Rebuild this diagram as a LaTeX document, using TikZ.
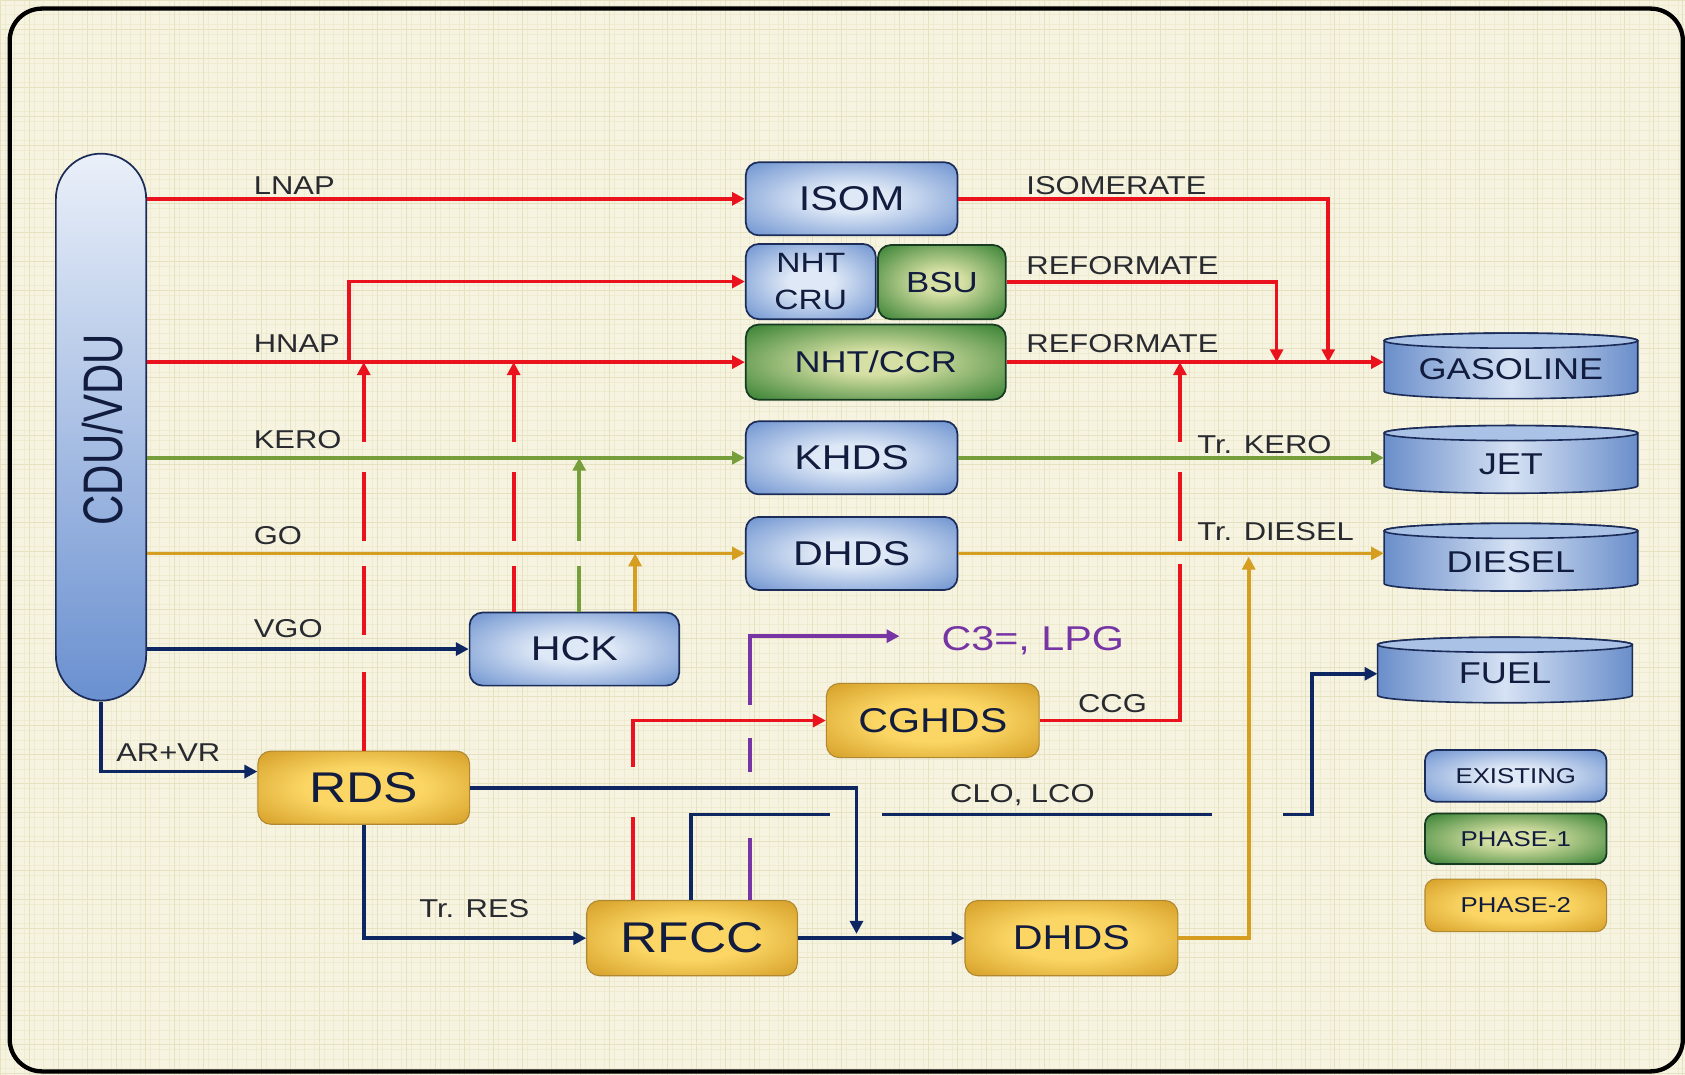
\documentclass[tikz,border=0pt]{standalone}
\usepackage{fontspec}
\setmainfont{Liberation Sans}[FakeStretch=1.2]
\newfontfamily\cdufont{Liberation Sans}
\usetikzlibrary{arrows.meta}
\definecolor{bgC}{RGB}{246,243,224}
\definecolor{bgD}{RGB}{237,228,184}
\definecolor{gridC}{RGB}{230,225,192}
\definecolor{gridM}{RGB}{239,235,209}
\definecolor{redL}{RGB}{234,18,28}
\definecolor{greenL}{RGB}{118,158,58}
\definecolor{orangeL}{RGB}{214,158,32}
\definecolor{navyL}{RGB}{14,38,98}
\definecolor{purpleL}{RGB}{118,52,164}
\definecolor{txtN}{RGB}{18,28,62}
\definecolor{lblC}{RGB}{40,42,48}
\definecolor{bC}{RGB}{222,232,246}
\definecolor{bE}{RGB}{98,138,204}
\definecolor{bE2}{RGB}{82,122,192}
\definecolor{bB}{RGB}{28,44,88}
\definecolor{gC}{RGB}{214,224,164}
\definecolor{gE}{RGB}{50,126,48}
\definecolor{gE2}{RGB}{34,106,38}
\definecolor{gB}{RGB}{22,58,34}
\definecolor{oC}{RGB}{251,214,100}
\definecolor{oE}{RGB}{208,152,32}
\definecolor{oE2}{RGB}{192,138,24}
\definecolor{oB}{RGB}{176,136,50}
\definecolor{tC}{RGB}{214,226,244}
\definecolor{tE}{RGB}{106,142,202}
\definecolor{tTop}{RGB}{170,194,230}
\definecolor{cduT}{RGB}{234,240,249}
\definecolor{cduB}{RGB}{106,144,208}
\pgfdeclareradialshading{blueshade}{\pgfpointorigin}{color(0bp)=(bC); color(9bp)=(bC); color(38bp)=(bE); color(50bp)=(bE2)}
\pgfdeclareradialshading{greenshade}{\pgfpointorigin}{color(0bp)=(gC); color(8bp)=(gC); color(36bp)=(gE); color(50bp)=(gE2)}
\pgfdeclareradialshading{goldshade}{\pgfpointorigin}{color(0bp)=(oC); color(14bp)=(oC); color(38bp)=(oE); color(50bp)=(oE2)}
\pgfdeclareradialshading{bgshade}{\pgfpointorigin}{color(0bp)=(bgC); color(40bp)=(bgC); color(71bp)=(bgD)}
\newcommand\drawtank[4]{%
  \pgfmathsetmacro\tcx{(#1+#3)/2}%
  \pgfmathsetmacro\trx{(#3-#1)/2}%
  \pgfmathsetmacro\tyt{#2+7}%
  \pgfmathsetmacro\tyb{#4-7}%
  \draw[draw=bB,line width=1.5,left color=tE,right color=tE,middle color=tC]
    (#1,\tyt) -- (#1,\tyb) arc[start angle=180,end angle=360,x radius=\trx pt,y radius=7pt]
    -- (#3,\tyt) arc[start angle=0,end angle=180,x radius=\trx pt,y radius=7pt] -- cycle;
  \draw[draw=bB,line width=1.5,fill=tTop] (\tcx,\tyt) ellipse[x radius=\trx pt,y radius=7pt];
}
\tikzset{
  unit/.style={rounded corners=12, inner sep=0, text=txtN, line width=1.6,
    minimum width=197, minimum height=68, font=\fontsize{32}{38}\selectfont},
  bluebox/.style={unit, draw=bB, shade, shading=blueshade},
  greenbox/.style={unit, draw=gB, shade, shading=greenshade},
  goldbox/.style={unit, draw=oB, line width=1, shade, shading=goldshade},
  tanktext/.style={inner sep=0, minimum width=236, minimum height=40, text=txtN,
    font=\fontsize{28}{32}\selectfont},
  legbox/.style={minimum width=169, minimum height=48, rounded corners=10,
    font=\fontsize{20}{24}\selectfont},
  lbl/.style={anchor=base west, inner sep=0, text=lblC, font=\fontsize{24}{28}\selectfont},
  flow/.style={line width=3.4},
  redline/.style={flow, draw=redL},
  greenline/.style={flow, draw=greenL},
  orangeline/.style={flow, draw=orangeL},
  navyline/.style={flow, draw=navyL},
  purpleline/.style={flow, draw=purpleL},
  arr/.style={-{Triangle[length=12pt,width=12pt]}},
}
\begin{document}
\begin{tikzpicture}[x=1pt,y=-1pt]
\useasboundingbox (0,0) rectangle (1568,1000);
% background
\shade[shading=bgshade] (0,0) rectangle (1568,1000);
\foreach \gx in {4.5,13.5,...,1568} \draw[gridM,line width=0.5] (\gx,0) -- (\gx,1000);
\foreach \gy in {4.5,13.5,...,1000} \draw[gridM,line width=0.5] (0,\gy) -- (1568,\gy);
\foreach \gx in {0,27,...,1568} \draw[gridC,line width=0.9] (\gx,0) -- (\gx,1000);
\foreach \gy in {0,27,...,1000} \draw[gridC,line width=0.9] (0,\gy) -- (1568,\gy);
\draw[line width=4, rounded corners=30] (9,8) rectangle (1566,997);

% CDU/VDU column
\node[draw=bB, line width=1.6, rounded corners=41.9, top color=cduT, bottom color=cduB,
  minimum width=84, minimum height=509, inner sep=0] (cdu) at (94,397.5) {};
\node[rotate=90, text=txtN, inner sep=0] (cdutext) at (95,400)
  {\scalebox{1}[1.33]{\cdufont\fontsize{39}{40}\selectfont CDU/VDU}};

% process units
\node[bluebox] (isom) at (792.5,185) {ISOM};
\node[bluebox, minimum width=121, minimum height=70, align=center,
  font=\fontsize{26}{34}\selectfont] (nhtcru) at (754.5,262) {NHT\\CRU};
\node[greenbox, minimum width=119, minimum height=69,
  font=\fontsize{27}{32}\selectfont] (bsu) at (876.5,262.5) {BSU};
\node[greenbox, minimum width=242, minimum height=70,
  font=\fontsize{28}{32}\selectfont] (nhtccr) at (815,337) {NHT/CCR};
\node[bluebox] (khds) at (792.5,426) {KHDS};
\node[bluebox] (dhdsa) at (792.5,515) {DHDS};
\node[bluebox, minimum width=195] (hck) at (534.5,604) {HCK};
\node[goldbox, font=\fontsize{40}{44}\selectfont] (rds) at (338.5,733) {RDS};
\node[goldbox, minimum width=198, minimum height=69] (cghds) at (868,670.5) {CGHDS};
\node[goldbox, minimum width=196, minimum height=70, font=\fontsize{40}{44}\selectfont] (rfcc) at (644,873) {RFCC};
\node[goldbox, minimum width=198, minimum height=70] (dhdsb) at (997,873) {DHDS};

% tanks
\drawtank{1288}{310}{1524}{371}
\drawtank{1288}{396}{1524}{459}
\drawtank{1288}{487}{1524}{550}
\drawtank{1282}{593}{1519}{654}
\node[tanktext] (gas) at (1406,343.5) {GASOLINE};
\node[tanktext] (jet) at (1406,432) {JET};
\node[tanktext] (diesel) at (1406,523.5) {DIESEL};
\node[tanktext, minimum width=237] (fuel) at (1400.5,627) {FUEL};

% legend
\node[bluebox, legbox] (legA) at (1410.5,722) {EXISTING};
\node[greenbox, legbox, minimum height=47] (legB) at (1410.5,780.5) {PHASE-1};
\node[goldbox, legbox, minimum height=49] (legC) at (1410.5,842.5) {PHASE-2};

% labels
\node[lbl] (lLNAP) at (236,181) {LNAP};
\node[lbl] (lHNAP) at (236,328) {HNAP};
\node[lbl] (lKERO) at (236,417) {KERO};
\node[lbl] (lGO) at (236,507) {GO};
\node[lbl] (lVGO) at (236,593) {VGO};
\node[lbl] (lARVR) at (108,709) {AR+VR};
\node[lbl] (lTRES) at (390,854) {Tr. RES};
\node[lbl] (lISO) at (955,181) {ISOMERATE};
\node[lbl] (lREF1) at (955,255) {REFORMATE};
\node[lbl] (lREF2) at (955,328) {REFORMATE};
\node[lbl] (lTKERO) at (1114,422) {Tr. KERO};
\node[lbl] (lTDIES) at (1114,503) {Tr. DIESEL};
\node[lbl, text=purpleL, font=\fontsize{32}{36}\selectfont] (lC3) at (876,605) {C3=, LPG};
\node[lbl] (lCCG) at (1003,663) {CCG};
\node[lbl] (lCLO) at (884,747) {CLO, LCO};

% junction coordinates
\coordinate (hb) at (325,337);
\coordinate (isoj) at (1236,337);
\coordinate (bsuj) at (1188,337);
\coordinate (av) at (95,718);
% RDS top red riser (x=338.5)
\coordinate (ra1) at (338.5,625);
\coordinate (ra2) at (338.5,591);
\coordinate (ra3) at (338.5,527);
\coordinate (ra4) at (338.5,503);
\coordinate (ra5) at (338.5,439);
\coordinate (ra6) at (338.5,411);
\coordinate (raE) at (338.5,337);
% HCK risers
\coordinate (hr1) at (478,527);
\coordinate (hr2) at (478,503);
\coordinate (hr3) at (478,439);
\coordinate (hr4) at (478,411);
\coordinate (hrE) at (478,337);
\coordinate (hg1) at (539,527);
\coordinate (hg2) at (539,503);
\coordinate (hgE) at (539,426);
\coordinate (hoE) at (591,515);
% CCG riser (x=1098)
\coordinate (cc1) at (1098,525);
\coordinate (cc2) at (1098,503);
\coordinate (cc3) at (1098,439);
\coordinate (cc4) at (1098,411);
\coordinate (ccE) at (1098,337);
% RFCC outlets
\coordinate (fr1) at (589,760);
\coordinate (fr2) at (589,714);
\coordinate (fn1) at (643,758);
\coordinate (fn2) at (772,758);
\coordinate (fn3) at (821,758);
\coordinate (fn4) at (1128,758);
\coordinate (fn5) at (1194,758);
\coordinate (fn6) at (1221,758);
\coordinate (fp1) at (698,780);
\coordinate (fp2) at (698,718);
\coordinate (fp3) at (698,687);
\coordinate (fp4) at (698,656);
\coordinate (fpE) at (837,592);
\coordinate (rj) at (797,869);
\coordinate (dj) at (1162,518);

% CDU outputs
\draw[redline, arr] (cdu.east |- isom.west) -- (isom.west);
\draw[redline, arr] (cdu.east |- nhtccr.west) -- (nhtccr.west);
\draw[redline, arr] (hb) |- (nhtcru.west);
\draw[greenline, arr] (cdu.east |- khds.west) -- (khds.west);
\draw[orangeline, arr] (cdu.east |- dhdsa.west) -- (dhdsa.west);
\draw[navyline, arr] (cdu.east |- hck.west) -- (hck.west);
\draw[navyline, arr] (cdu.south) |- (rds.west |- av);

% gasoline pool
\draw[redline, arr] (isom.east) -| (isoj);
\draw[redline, arr] (bsu.east) -| (bsuj);
\draw[redline, arr] (nhtccr.east) -- (nhtccr.east -| gas.west);
\draw[greenline, arr] (khds.east) -- (khds.east -| jet.west);
\draw[orangeline, arr] (dhdsa.east) -- (dhdsa.east -| diesel.west);

% RDS risers
\draw[redline] (rds.north) -- (ra1);
\draw[redline] (ra2) -- (ra3);
\draw[redline] (ra4) -- (ra5);
\draw[redline, arr] (ra6) -- (raE);
% HCK risers
\draw[redline] (hck.north -| hr1) -- (hr1);
\draw[redline] (hr2) -- (hr3);
\draw[redline, arr] (hr4) -- (hrE);
\draw[greenline] (hck.north -| hg1) -- (hg1);
\draw[greenline, arr] (hg2) -- (hgE);
\draw[orangeline, arr] (hck.north -| hoE) -- (hoE);
% CCG
\draw[redline] (cghds.east) -| (cc1);
\draw[redline] (cc2) -- (cc3);
\draw[redline, arr] (cc4) -- (ccE);

% RDS outputs
\draw[navyline, arr] (rds.east) -| (rj);
\draw[navyline, arr] (rds.south) |- (rfcc.west);
\draw[navyline, arr] (rfcc.east) -- (dhdsb.west);
\draw[orangeline, arr] (dhdsb.east) -| (dj);

% RFCC outputs
\draw[redline] (rfcc.north -| fr1) -- (fr1);
\draw[redline, arr] (fr2) |- (cghds.west);
\draw[navyline] (rfcc.north -| fn1) -- (fn1) -- (fn2);
\draw[navyline] (fn3) -- (fn4);
\draw[navyline, arr] (fn5) -- (fn6) |- (fuel.west);
\draw[purpleline] (rfcc.north -| fp1) -- (fp1);
\draw[purpleline] (fp2) -- (fp3);
\draw[purpleline, arr] (fp4) |- (fpE);
\end{tikzpicture}
\end{document}
